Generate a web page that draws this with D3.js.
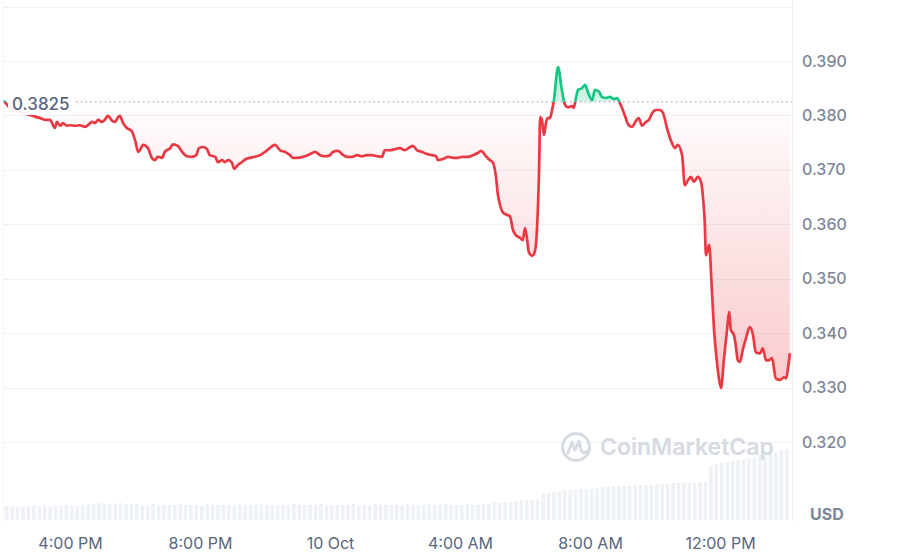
<!DOCTYPE html>
<html>
<head>
<meta charset="utf-8">
<script src="https://cdn.jsdelivr.net/npm/d3@7"></script>
<style>
  html, body { margin: 0; padding: 0; background: #ffffff; }
  svg { display: block; font-family: Inter, "Noto Sans", sans-serif; }
</style>
</head>
<body>
<svg id="chart" width="903" height="553"></svg>
<script>
// ---------------- DATA ----------------
const startTime = new Date(2024, 9, 9, 14, 0); // 9 Oct, 2:00 PM
// minutes after startTime
const minutes = [
  -2, 9, 28, 46, 65, 74, 83, 92, 96, 102, 107, 114, 120, 129, 138, 148, 153, 161, 166, 172,
  179, 185, 190, 198, 203, 209, 212, 218, 225, 234, 240, 246, 249, 255, 264, 271, 277, 282, 290, 295,
  305, 310, 319, 327, 336, 345, 353, 358, 366, 373, 378, 388, 393, 401, 406, 412, 419, 423, 430, 437,
  445, 452, 461, 471, 480, 489, 498, 508, 517, 526, 532, 541, 550, 559, 567, 572, 582, 591, 600, 605,
  615, 622, 631, 641, 650, 659, 668, 677, 687, 696, 701, 711, 720, 729, 738, 748, 753, 761, 770, 779,
  788, 796, 799, 809, 818, 827, 836, 845, 855, 864, 873, 879, 888, 895, 901, 906, 910, 914, 919, 927,
  932, 938, 943, 951, 956, 960, 964, 967, 973, 978, 982, 986, 988, 991, 995, 999, 1002, 1006, 1010, 1013,
  1021, 1028, 1034, 1039, 1047, 1050, 1054, 1058, 1065, 1071, 1076, 1084, 1089, 1097, 1102, 1109, 1117, 1124, 1130, 1135,
  1139, 1146, 1150, 1157, 1165, 1170, 1176, 1183, 1189, 1194, 1202, 1209, 1215, 1222, 1229, 1237, 1242, 1250, 1255, 1261,
  1266, 1272, 1279, 1285, 1289, 1292, 1294, 1300, 1305, 1309, 1314, 1318, 1322, 1327, 1333, 1337, 1340, 1346, 1349, 1353,
  1357, 1362, 1368, 1375, 1381, 1386, 1394, 1399, 1405, 1410, 1416, 1423, 1431, 1438, 1442, 1445, 1449
];
const prices = [
  0.3827, 0.3814, 0.3806, 0.3801, 0.3795, 0.3792, 0.3792, 0.3777, 0.3788, 0.3781, 0.3786, 0.3781, 0.3782, 0.3781, 0.3782, 0.3779, 0.3782, 0.3788, 0.3786, 0.3792,
  0.3788, 0.3793, 0.3799, 0.3790, 0.3788, 0.3797, 0.3799, 0.3786, 0.3777, 0.3771, 0.3755, 0.3733, 0.3736, 0.3746, 0.3740, 0.3722, 0.3718, 0.3724, 0.3722, 0.3733,
  0.3740, 0.3747, 0.3744, 0.3733, 0.3725, 0.3724, 0.3727, 0.3740, 0.3742, 0.3738, 0.3727, 0.3724, 0.3714, 0.3718, 0.3714, 0.3718, 0.3713, 0.3702, 0.3709, 0.3714,
  0.3720, 0.3722, 0.3724, 0.3727, 0.3733, 0.3740, 0.3746, 0.3736, 0.3733, 0.3727, 0.3722, 0.3722, 0.3724, 0.3727, 0.3731, 0.3733, 0.3727, 0.3725, 0.3727, 0.3733,
  0.3735, 0.3729, 0.3724, 0.3724, 0.3727, 0.3725, 0.3727, 0.3727, 0.3725, 0.3724, 0.3736, 0.3736, 0.3738, 0.3740, 0.3736, 0.3742, 0.3744, 0.3736, 0.3733, 0.3729,
  0.3727, 0.3725, 0.3718, 0.3720, 0.3724, 0.3722, 0.3722, 0.3724, 0.3724, 0.3727, 0.3731, 0.3735, 0.3725, 0.3718, 0.3713, 0.3690, 0.3654, 0.3635, 0.3622, 0.3617,
  0.3615, 0.3589, 0.3580, 0.3575, 0.3571, 0.3593, 0.3571, 0.3549, 0.3542, 0.3549, 0.3589, 0.3700, 0.3797, 0.3793, 0.3764, 0.3788, 0.3795, 0.3795, 0.3810, 0.3825,
  0.3889, 0.3847, 0.3819, 0.3815, 0.3817, 0.3814, 0.3832, 0.3847, 0.3850, 0.3856, 0.3843, 0.3828, 0.3847, 0.3843, 0.3834, 0.3832, 0.3834, 0.3830, 0.3832, 0.3823,
  0.3814, 0.3795, 0.3784, 0.3779, 0.3790, 0.3795, 0.3781, 0.3788, 0.3792, 0.3803, 0.3810, 0.3810, 0.3804, 0.3777, 0.3755, 0.3740, 0.3746, 0.3727, 0.3672, 0.3681,
  0.3687, 0.3678, 0.3687, 0.3678, 0.3645, 0.3599, 0.3543, 0.3562, 0.3479, 0.3406, 0.3350, 0.3317, 0.3299, 0.3350, 0.3406, 0.3439, 0.3406, 0.3396, 0.3378, 0.3350,
  0.3347, 0.3369, 0.3391, 0.3411, 0.3396, 0.3365, 0.3363, 0.3372, 0.3350, 0.3350, 0.3354, 0.3317, 0.3314, 0.3319, 0.3317, 0.3332, 0.3363
];
const basePrice = 0.3825;
const baseLabel = "0.3825";

// volume, one bar every 10 minutes from startTime (arbitrary units, M USD)
const volumeStepMinutes = 10;
const volumes = [
  14, 14, 13, 14, 14, 15, 14, 14, 13, 14, 14, 15, 14, 14, 15,
  16, 16, 17, 16, 16, 16, 17, 16, 16, 16,
  15, 15, 16, 15, 15, 15, 15, 16, 15, 15, 15, 15, 16, 15, 15, 15, 15, 15, 16, 15,
  15, 15, 16, 15, 15, 15, 15, 15, 16, 15, 15, 15, 15, 16, 15, 15, 15, 15, 15, 16,
  15, 15, 15, 16, 15, 15, 15, 15, 15, 16, 15, 15, 15, 16, 15, 15, 16, 15, 15, 15,
  16, 15, 15, 16, 16,
  17, 17, 18, 18,
  19, 20, 20, 20, 21,
  27, 27, 28,
  29, 30, 30, 30, 31, 31, 31, 32,
  33, 33, 34, 34, 34, 34, 35, 35, 35, 35, 36, 36,
  36, 37, 37, 37, 37, 37, 38, 38,
  55,
  56, 57, 58,
  59, 60, 61, 62,
  63, 65, 66, 67,
  68, 70, 71
];

const yTicks = [0.320, 0.330, 0.340, 0.350, 0.360, 0.370, 0.380, 0.390];
const gridTop = 0.400;
const xTickDates = [
  new Date(2024, 9, 9, 16, 0),
  new Date(2024, 9, 9, 20, 0),
  new Date(2024, 9, 10, 0, 0),
  new Date(2024, 9, 10, 4, 0),
  new Date(2024, 9, 10, 8, 0),
  new Date(2024, 9, 10, 12, 0)
];
const currencyLabel = "USD";
const watermark = "CoinMarketCap";

// ---------------- CHART ----------------
const RED = "#ea3943", GREEN = "#16c784";
const svg = d3.select("#chart");
const plotLeft = 4, plotRight = 792;

const toDate = m => new Date(startTime.getTime() + m * 60000);
const data = minutes.map((m, i) => ({ t: toDate(m), p: prices[i] }));

const x = d3.scaleTime()
  .domain([new Date(2024, 9, 9, 16, 0), new Date(2024, 9, 10, 12, 0)])
  .range([70, 720]);
const y = d3.scaleLinear().domain([0.320, 0.390]).range([442, 61]);
const yv = d3.scaleLinear().domain([0, 100]).range([520, 420]);
const yBase = y(basePrice);

const defs = svg.append("defs");
defs.append("clipPath").attr("id", "clipAbove")
  .append("rect").attr("x", 0).attr("y", 0).attr("width", plotRight).attr("height", yBase);
defs.append("clipPath").attr("id", "clipBelow")
  .append("rect").attr("x", 0).attr("y", yBase).attr("width", plotRight).attr("height", 553 - yBase);

const gRed = defs.append("linearGradient").attr("id", "gradRed")
  .attr("gradientUnits", "userSpaceOnUse")
  .attr("x1", 0).attr("x2", 0).attr("y1", yBase).attr("y2", y(d3.min(prices)));
gRed.append("stop").attr("offset", 0).attr("stop-color", RED).attr("stop-opacity", 0.01);
gRed.append("stop").attr("offset", 1).attr("stop-color", RED).attr("stop-opacity", 0.27);

const gGreen = defs.append("linearGradient").attr("id", "gradGreen")
  .attr("gradientUnits", "userSpaceOnUse")
  .attr("x1", 0).attr("x2", 0).attr("y1", y(d3.max(prices))).attr("y2", yBase);
gGreen.append("stop").attr("offset", 0).attr("stop-color", GREEN).attr("stop-opacity", 0.35);
gGreen.append("stop").attr("offset", 1).attr("stop-color", GREEN).attr("stop-opacity", 0.18);

// volume bars
svg.append("g").selectAll("rect")
  .data(volumes)
  .join("rect")
  .attr("x", (d, i) => x(toDate(i * volumeStepMinutes)))
  .attr("width", 3.6)
  .attr("y", d => yv(d))
  .attr("height", d => yv(0) - yv(d))
  .attr("fill", "#eef1f5");

// grid lines
svg.append("g").selectAll("line")
  .data(yTicks.concat([gridTop]))
  .join("line")
  .attr("x1", plotLeft).attr("x2", plotRight)
  .attr("y1", d => Math.round(y(d)) + 0.5).attr("y2", d => Math.round(y(d)) + 0.5)
  .attr("stroke", "#eff2f5").attr("stroke-width", 1);

// borders
svg.append("line").attr("x1", plotRight + 0.5).attr("x2", plotRight + 0.5)
  .attr("y1", 0).attr("y2", 522).attr("stroke", "#eff2f5");
svg.append("line").attr("x1", plotLeft - 0.5).attr("x2", plotLeft - 0.5)
  .attr("y1", 0).attr("y2", 522).attr("stroke", "#f1f3f6");

// watermark
const wm = svg.append("g").attr("transform", "translate(576,447)");
wm.append("circle").attr("r", 13.5).attr("fill", "none").attr("stroke", "#d6dae3").attr("stroke-width", 3);
wm.append("path")
  .attr("d", "M-8,6 L-4,-5 L-1,3 L3,-6 L5,3 Q7,8 11,4")
  .attr("fill", "none").attr("stroke", "#d6dae3").attr("stroke-width", 3)
  .attr("stroke-linejoin", "round").attr("stroke-linecap", "round");
svg.append("text").attr("x", 600).attr("y", 455)
  .attr("font-size", 23).attr("font-weight", 600).attr("fill", "#d6dae3")
  .text(watermark);

// areas
const area = d3.area().x(d => x(d.t)).y0(yBase).y1(d => y(d.p)).curve(d3.curveMonotoneX);
svg.append("path").datum(data).attr("d", area).attr("fill", "url(#gradRed)").attr("clip-path", "url(#clipBelow)");
svg.append("path").datum(data).attr("d", area).attr("fill", "url(#gradGreen)").attr("clip-path", "url(#clipAbove)");

// baseline (dotted)
svg.append("line").attr("x1", plotLeft).attr("x2", plotRight)
  .attr("y1", yBase).attr("y2", yBase)
  .attr("stroke", "#9aa1ad").attr("stroke-width", 1.3).attr("stroke-dasharray", "1.3 3.5");

// lines
const line = d3.line().x(d => x(d.t)).y(d => y(d.p)).curve(d3.curveMonotoneX);
svg.append("path").datum(data).attr("d", line).attr("fill", "none")
  .attr("stroke", RED).attr("stroke-width", 2.7).attr("stroke-linejoin", "round")
  .attr("clip-path", "url(#clipBelow)");
svg.append("path").datum(data).attr("d", line).attr("fill", "none")
  .attr("stroke", GREEN).attr("stroke-width", 2.7).attr("stroke-linejoin", "round")
  .attr("clip-path", "url(#clipAbove)");

// base label
svg.append("rect").attr("x", 8).attr("y", 92).attr("width", 65).attr("height", 23)
  .attr("fill", "#ffffff").attr("fill-opacity", 0.92);
svg.append("text").attr("x", 12).attr("y", yBase + 8.5)
  .attr("font-size", 17).attr("font-weight", 500).attr("fill", "#58667e").text(baseLabel);

// y axis
const yAxis = d3.axisRight(y).tickValues(yTicks).tickFormat(d3.format(".3f")).tickSize(0).tickPadding(10);
const gy = svg.append("g").attr("transform", `translate(${plotRight},0)`).call(yAxis);
gy.select(".domain").remove();
gy.selectAll("text").attr("font-size", 16).attr("font-weight", 500)
  .attr("font-family", "Inter, sans-serif").attr("fill", "#7d8698");

svg.append("text").attr("x", 810).attr("y", 520)
  .attr("font-size", 16).attr("font-weight", 700).attr("fill", "#7d8698").text(currencyLabel);

// x axis
const fmtTime = d3.timeFormat("%-I:%M %p");
const fmtDay = d3.timeFormat("%-d %b");
const xAxis = d3.axisBottom(x).tickValues(xTickDates)
  .tickFormat(d => (d.getHours() === 0 ? fmtDay(d) : fmtTime(d)))
  .tickSize(0).tickPadding(8);
const gx = svg.append("g").attr("transform", "translate(0,530)").call(xAxis);
gx.select(".domain").remove();
gx.selectAll("text").attr("font-size", 16).attr("font-family", "Inter, sans-serif").attr("fill", "#58667e");
</script>
</body>
</html>
